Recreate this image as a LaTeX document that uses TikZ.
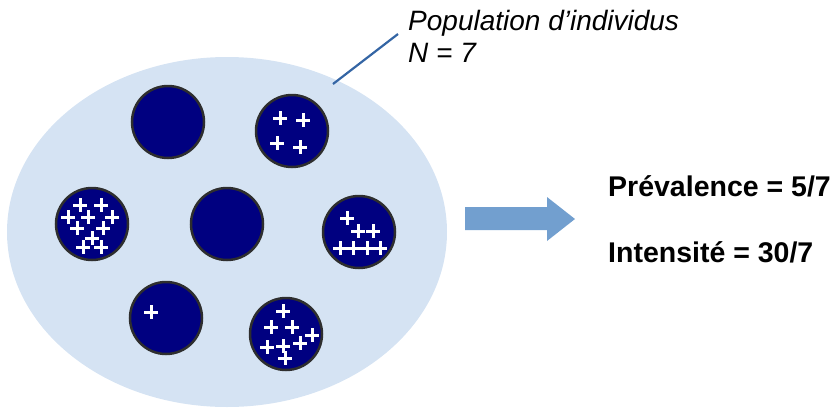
\documentclass[tikz,border=0pt]{standalone}
\usepackage{fontspec}
\setmainfont{Liberation Sans}
\usepackage{xcolor}
\usetikzlibrary{shapes.geometric}
\definecolor{popfill}{HTML}{D5E3F3}
\definecolor{hostfill}{HTML}{000080}
\definecolor{hostedge}{HTML}{2E2E2E}
\definecolor{leadcol}{HTML}{3465A4}
\definecolor{arrowcol}{HTML}{729FCF}
\tikzset{
  % population and hosts
  pop/.style={ellipse, fill=popfill, minimum width=440pt, minimum height=350pt, inner sep=0pt},
  host/.style={circle, fill=hostfill, draw=hostedge, line width=2.5pt, minimum size=72pt, inner sep=0pt},
  parasite/.style={draw=white, line width=3pt},
  leader/.style={draw=leadcol, line width=2.2pt},
  % texts
  note/.style={font=\fontsize{28}{32}\selectfont\itshape, inner sep=0pt},
  result/.style={font=\fontsize{28.5}{32}\selectfont\bfseries, inner sep=0pt},
}
\newcommand{\parasites}[1]{%
  \foreach \x/\y in {#1}
    \draw[parasite] (\x-7,\y) -- (\x+7,\y) (\x,\y-7) -- (\x,\y+7);
}
\begin{document}
\begin{tikzpicture}[x=1pt, y=-1pt]
  \useasboundingbox (0,0) rectangle (839,408);

  % Population
  \node[pop] (pop) at (227,232) {};

  % Hosts
  \node[host] (h1) at (168,122) {};
  \node[host] (h2) at (292,131) {};
  \node[host] (h3) at (92,224) {};
  \node[host] (h4) at (227,224) {};
  \node[host] (h5) at (359,232) {};
  \node[host] (h6) at (166,318) {};
  \node[host] (h7) at (286,334) {};

  % Parasites
  \parasites{280/118, 303/120, 277/143, 300/147}
  \parasites{80/205, 101/205, 68/217, 88/217, 112/217, 77/228, 103/228, 92/238, 83/247, 101/247}
  \parasites{347/218, 358/231, 373/231, 340/248, 353/248, 367/248, 380/248}
  \parasites{151/312}
  \parasites{283/311, 271/327, 292/327, 312/335, 300/343, 267/347, 283/346, 285/358}

  % Label
  \node[note, anchor=base west] (poplab) at (408,30) {Population d’individus};
  \node[note, anchor=base west] (nlab) at (408,62) {N = 7};
  \coordinate (tail) at (333,84);
  \coordinate (tip) at (398,34);
  \draw[leader] (tail) -- (tip);

  % Arrow
  \fill[arrowcol] (465,207) -- (547,207) -- (547,197) -- (575,219)
    -- (547,241) -- (547,230) -- (465,230) -- cycle;

  % Results
  \node[result, anchor=base west] (prev) at (608,196) {Prévalence = 5/7};
  \node[result, anchor=base west] (inten) at (608,262) {Intensité = 30/7};
\end{tikzpicture}
\end{document}
